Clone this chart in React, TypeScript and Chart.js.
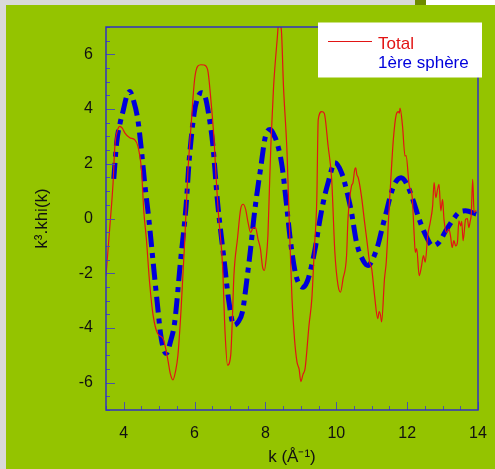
import React, { useEffect, useRef } from "react";
import { Chart, registerables } from "chart.js";

Chart.register(...registerables);

// k values (Å⁻¹) and k³·χ(k) for the full spectrum
const kTotal = [
  3.5, 3.61, 3.7, 3.75, 3.82, 3.89, 3.96, 4.03, 4.17, 4.31, 4.4, 4.5, 4.57, 4.64, 4.73, 4.83, 4.96, 5.11, 5.24, 5.32,
  5.39, 5.46, 5.53, 5.62, 5.72, 5.81, 5.9, 6.0, 6.09, 6.18, 6.27, 6.37, 6.46, 6.55, 6.6, 6.67, 6.79, 6.86, 6.93, 7.02,
  7.07, 7.11, 7.21, 7.3, 7.37, 7.44, 7.51, 7.58, 7.65, 7.72, 7.79, 7.86, 7.92, 7.97, 8.02, 8.07, 8.12, 8.16, 8.23, 8.33,
  8.38, 8.45, 8.51, 8.61, 8.67, 8.75, 8.82, 8.89, 8.95, 9.0, 9.06, 9.12, 9.23, 9.31, 9.38, 9.45, 9.49, 9.59, 9.66, 9.77,
  9.87, 9.96, 10.05, 10.12, 10.19, 10.29, 10.33, 10.43, 10.47, 10.52, 10.55, 10.58, 10.62, 10.71, 10.8, 10.87, 10.94, 11.0, 11.08, 11.17,
  11.21, 11.25, 11.28, 11.36, 11.41, 11.48, 11.55, 11.61, 11.69, 11.75, 11.78, 11.8, 11.87, 11.94, 11.97, 12.06, 12.14, 12.2, 12.23, 12.27,
  12.34, 12.4, 12.46, 12.51, 12.58, 12.65, 12.72, 12.76, 12.81, 12.86, 12.9, 12.95, 13.0, 13.04, 13.11, 13.18, 13.23, 13.27, 13.32, 13.37,
  13.42, 13.46, 13.51, 13.54, 13.58, 13.65, 13.7, 13.74, 13.78, 13.81, 13.85, 13.89, 13.95,
];
const chiTotal = [
  -2.09, -0.27, 1.31, 2.64, 3.2, 3.37, 3.3, 3.13, 2.95, 2.88, 2.64, 1.79, 0.22, -0.75, -2.33, -3.54, -4.21, -4.39, -5.12, -5.7,
  -5.9, -5.6, -5.0, -3.3, -0.87, 1.67, 3.37, 5.07, 5.57, 5.62, 5.61, 5.43, 4.34, 2.88, 1.67, 0.22, -1.72, -4.15, -5.36, -5.0,
  -3.54, -2.09, -0.75, 0.34, 0.52, 0.34, -0.15, -0.51, -0.35, -0.33, -0.75, -1.12, -1.78, -1.9, -1.48, -0.63, 1.4, 2.9, 4.82, 6.52,
  7.2, 6.88, 4.82, 2.4, -0.03, -2.93, -4.39, -5.24, -5.5, -5.96, -5.7, -5.48, -3.9, -2.93, -1.12, 0.7, 3.61, 3.91, 3.85, 2.64,
  1.43, -1.24, -2.45, -2.69, -2.21, -1.36, -0.03, 1.19, 1.3, 1.79, 1.85, 1.6, 1.49, 0.82, -0.15, -0.87, -1.6, -1.84, -2.81, -3.66,
  -3.4, -3.54, -3.78, -2.21, -1.6, 0.1, 1.67, 2.88, 3.79, 3.91, 3.85, 4.04, 3.37, 2.28, 2.3, 1.19, 0.82, -0.63, -1.24, -1.1,
  -2.09, -1.78, -1.36, -1.6, -0.63, -0.15, 0.46, 1.31, 0.76, 1.07, 1.25, 0.28, 0.7, -0.03, -0.51, -0.39, -0.69, -1.06, -0.81, -1.0,
  -0.87, -0.09, -0.27, -0.1, -0.81, -0.03, 0.0, -0.33, -0.1, 0.16, 1.43, 0.22, 0.3,
];

// first coordination shell contribution
const kShell = [
  3.72, 3.8, 3.9, 3.99, 4.08, 4.17, 4.28, 4.4, 4.5, 4.59, 4.71, 4.84, 4.94, 5.06, 5.2, 5.32, 5.44, 5.6, 5.76, 5.85,
  5.99, 6.1, 6.2, 6.3, 6.4, 6.51, 6.65, 6.83, 6.97, 7.11, 7.22, 7.35, 7.49, 7.58, 7.67, 7.76, 7.86, 8.0, 8.14, 8.22,
  8.33, 8.47, 8.6, 8.7, 8.84, 8.95, 9.07, 9.18, 9.26, 9.4, 9.54, 9.63, 9.77, 9.96, 10.15, 10.33, 10.43, 10.57, 10.76, 10.9,
  11.03, 11.17, 11.31, 11.41, 11.5, 11.64, 11.83, 11.97, 12.16, 12.34, 12.53, 12.72, 12.9, 13.09, 13.27, 13.46, 13.65, 13.95,
];
const chiShell = [
  1.45, 2.76, 3.5, 3.97, 4.45, 4.64, 4.3, 3.6, 2.5, 1.32, -0.03, -1.72, -3.0, -4.39, -4.93, -4.5, -3.78, -1.6, 0.46, 2.16,
  3.86, 4.45, 4.6, 4.45, 3.8, 2.76, 0.58, -1.48, -3.05, -3.9, -3.8, -3.42, -2.09, -1.12, -0.03, 0.9, 1.79, 3.0, 3.25, 3.1,
  2.76, 1.91, 0.45, -0.75, -1.96, -2.4, -2.51, -2.3, -1.96, -1.12, -0.03, 0.58, 1.31, 2.04, 1.67, 0.82, 0.22, -0.87, -1.54, -1.72,
  -1.48, -1.0, -0.27, 0.22, 0.7, 1.25, 1.49, 1.31, 0.7, -0.03, -0.63, -1.0, -0.87, -0.45, -0.09, 0.22, 0.28, 0.16,
];

const seriesNames = ["Total", "1ère sphère"];
const xTickValues = [4, 6, 8, 10, 12, 14];
const yTickValues = [-6, -4, -2, 0, 2, 4, 6];
const X_MIN = 3.5;
const X_MAX = 14;
const Y_MIN = -7;
const Y_MAX = 7;
const MINOR_STEP = 0.5;

const RED = "#e21414";
const BLUE = "#0000dc";
const FRAME = "#3232c0";
const TICK = "#4a55a8";
const GREEN = "#94c400";
const FONT = "'Liberation Sans', Arial, sans-serif";

// inward tick marks, plot frame and the legend box
const decorPlugin = {
  id: "decor",
  afterDraw(chart: any) {
    const { ctx, chartArea: a, scales } = chart;
    const sx = scales.x;
    const sy = scales.y;
    ctx.save();
    ctx.lineWidth = 1;
    ctx.strokeStyle = TICK;
    ctx.beginPath();
    for (let v = Math.ceil(X_MIN / MINOR_STEP) * MINOR_STEP; v <= X_MAX + 1e-9; v += MINOR_STEP) {
      const px = Math.round(sx.getPixelForValue(v)) + 0.5;
      const len = xTickValues.includes(v) ? 8 : 4;
      ctx.moveTo(px, a.bottom);
      ctx.lineTo(px, a.bottom - len);
    }
    for (let v = Y_MIN; v <= Y_MAX + 1e-9; v += MINOR_STEP) {
      const py = Math.round(sy.getPixelForValue(v)) + 0.5;
      const len = yTickValues.includes(v) ? 9 : 4;
      ctx.moveTo(a.left, py);
      ctx.lineTo(a.left + len, py);
    }
    ctx.stroke();

    ctx.strokeStyle = FRAME;
    ctx.lineWidth = 1.5;
    ctx.strokeRect(a.left, a.top, a.right - a.left, a.bottom - a.top);

    // legend
    const boxRight = a.right + 4;
    const boxTop = a.top - 4.5;
    const boxW = 164;
    const boxH = 55;
    ctx.fillStyle = "#ffffff";
    ctx.fillRect(boxRight - boxW, boxTop, boxW, boxH);
    const ds = chart.data.datasets;
    const lineX0 = boxRight - boxW + 10;
    const textX = boxRight - boxW + 60;
    ctx.strokeStyle = ds[0].borderColor;
    ctx.lineWidth = 1.2;
    ctx.beginPath();
    ctx.moveTo(lineX0, boxTop + 19);
    ctx.lineTo(lineX0 + 44, boxTop + 19);
    ctx.stroke();
    ctx.font = `17px ${FONT}`;
    ctx.textBaseline = "alphabetic";
    ctx.textAlign = "left";
    ctx.fillStyle = ds[0].borderColor;
    ctx.fillText(ds[0].label, textX, boxTop + 26.5);
    ctx.fillStyle = ds[1].borderColor;
    ctx.fillText(ds[1].label, textX, boxTop + 45.5);
    ctx.restore();
  },
};

export default function App() {
  const canvasRef = useRef<HTMLCanvasElement | null>(null);

  useEffect(() => {
    const canvas = canvasRef.current;
    if (!canvas) return;
    const toPoints = (xs: number[], ys: number[]) => xs.map((x, i) => ({ x, y: ys[i] }));
    const tickFont = { family: FONT, size: 16 };
    const titleFont = { family: FONT, size: 17 };
    const chart = new Chart(canvas, {
      type: "line",
      data: {
        datasets: [
          {
            label: seriesNames[0],
            data: toPoints(kTotal, chiTotal),
            borderColor: RED,
            borderWidth: 1.2,
            pointRadius: 0,
            cubicInterpolationMode: "monotone",
            fill: false,
          },
          {
            label: seriesNames[1],
            data: toPoints(kShell, chiShell),
            borderColor: BLUE,
            borderWidth: 5,
            borderDash: [16, 6, 5, 6],
            pointRadius: 0,
            cubicInterpolationMode: "monotone",
            fill: false,
          },
        ],
      },
      options: {
        animation: false,
        responsive: false,
        devicePixelRatio: 1,
        layout: { padding: { top: 22, right: 17, left: 0, bottom: 0 } },
        plugins: { legend: { display: false }, tooltip: { enabled: false } },
        scales: {
          x: {
            type: "linear",
            min: X_MIN,
            max: X_MAX,
            afterBuildTicks: (s: any) => {
              s.ticks = xTickValues.map((v) => ({ value: v }));
            },
            afterFit: (s: any) => {
              s.height = 59;
              s.paddingLeft = 0;
              s.paddingRight = 0;
            },
            grid: { display: false, drawTicks: false },
            border: { display: false },
            ticks: { color: "#111", font: tickFont, padding: 14, maxRotation: 0, autoSkip: false },
            title: {
              display: true,
              text: "k (Å⁻¹)",
              color: "#111",
              font: titleFont,
              padding: { top: 0, bottom: 1 },
            },
          },
          y: {
            type: "linear",
            min: Y_MIN,
            max: Y_MAX,
            afterBuildTicks: (s: any) => {
              s.ticks = yTickValues.map((v) => ({ value: v }));
            },
            afterFit: (s: any) => {
              s.width = 100;
              s.paddingTop = 0;
              s.paddingBottom = 0;
            },
            grid: { display: false, drawTicks: false },
            border: { display: false },
            ticks: { color: "#111", font: tickFont, padding: 13 },
            title: {
              display: true,
              text: "k³.khi(k)",
              color: "#111",
              font: titleFont,
              padding: { top: 26, bottom: 0 },
            },
          },
        },
      },
      plugins: [decorPlugin],
    } as any);
    return () => chart.destroy();
  }, []);

  return (
    <div style={{ position: "absolute", left: 0, top: 0, width: 495, height: 469, background: "#d9d9d9", overflow: "hidden" }}>
      <div style={{ position: "absolute", left: 415, top: 0, width: 11, height: 5, background: "#6e8a00" }} />
      <div style={{ position: "absolute", left: 426, top: 0, width: 69, height: 5, background: "#ffffff" }} />
      <div style={{ position: "absolute", left: 6, top: 5, width: 489, height: 464, background: GREEN }}>
        <canvas ref={canvasRef} width={489} height={464} style={{ display: "block", width: 489, height: 464 }} />
      </div>
    </div>
  );
}
